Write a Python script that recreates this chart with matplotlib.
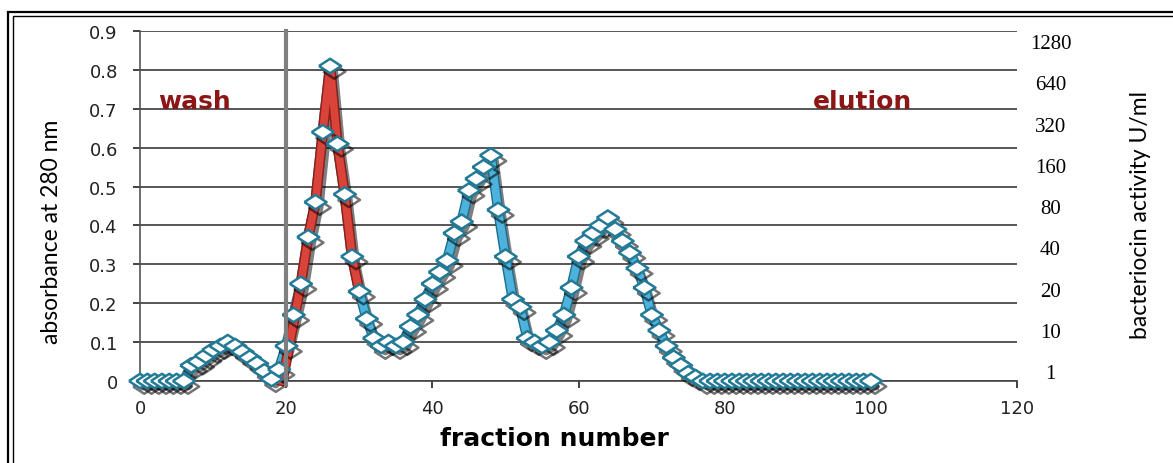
import numpy as np
import matplotlib
matplotlib.use("Agg")
import matplotlib.pyplot as plt
import matplotlib.patheffects as pe
from matplotlib.patches import Rectangle

# absorbance at 280 nm for each fraction (0..100)
fraction = list(range(0, 101))
absorbance = [0, 0, 0, 0, 0, 0, 0, 0.04, 0.05, 0.065,
              0.08, 0.09, 0.10, 0.09, 0.075, 0.06, 0.045, 0.025, 0.005, 0.03,
              0.09, 0.17, 0.25, 0.37, 0.46, 0.64, 0.81, 0.61, 0.48, 0.32,
              0.23, 0.16, 0.11, 0.09, 0.10, 0.09, 0.10, 0.14, 0.17, 0.21,
              0.25, 0.28, 0.31, 0.38, 0.41, 0.49, 0.52, 0.55, 0.58, 0.44,
              0.32, 0.21, 0.19, 0.11, 0.10, 0.09, 0.10, 0.13, 0.17, 0.24,
              0.32, 0.36, 0.38, 0.40, 0.42, 0.39, 0.36, 0.33, 0.29, 0.24,
              0.17, 0.13, 0.09, 0.06, 0.04, 0.02, 0.01] + [0] * 24

# bacteriocin activity trace (drawn on the absorbance scale, as in the original)
act_x = [19.5, 22, 23, 24, 25, 26, 27, 28, 29, 30]
act_y = [0.0, 0.25, 0.37, 0.46, 0.64, 0.81, 0.61, 0.48, 0.32, 0.23]

activity_labels = ['1', '10', '20', '40', '80', '160', '320', '640', '1280']
wash_start = 20

narrow = ['Lato', 'DejaVu Sans']

fig = plt.figure(figsize=(11.73, 4.64), dpi=100)
ax = fig.add_axes([0.1194, 0.1767, 0.7477, 0.7543])

ax.set_xlim(0, 120)
ax.set_ylim(0, 0.9)
ax.set_xticks(np.arange(0, 121, 20))
ax.set_yticks(np.arange(0, 0.91, 0.1))
ax.set_yticklabels(['0'] + ['%.1f' % v for v in np.arange(0.1, 0.91, 0.1)])
ax.tick_params(axis='both', labelsize=13, colors='#222222', length=5, width=1.2)
ax.tick_params(axis='y', pad=11)
ax.tick_params(axis='x', pad=8)
ax.grid(axis='y', color='#3a3a3a', lw=1.2)
ax.set_axisbelow(True)
for s in ['top', 'right']:
    ax.spines[s].set_visible(False)
ax.spines['left'].set_color('#555555')
ax.spines['bottom'].set_color('#444444')
ax.spines['left'].set_linewidth(1.2)
ax.spines['bottom'].set_linewidth(1.2)

shadow = pe.SimpleLineShadow(offset=(3, -4), shadow_color='black', alpha=0.5)

# blue absorbance line
ax.plot(fraction, absorbance, color='#4db3dd', lw=5.5, clip_on=False, zorder=3,
        solid_joinstyle='round',
        path_effects=[shadow, pe.Stroke(linewidth=7.5, foreground='#1d6e8c'), pe.Normal()])

# red activity line
ax.plot(act_x, act_y, color='#d9433a', lw=5.5, clip_on=False, zorder=4,
        solid_joinstyle='round',
        path_effects=[pe.Stroke(linewidth=7.5, foreground='#8e1f17'), pe.Normal()])

# diamond markers
diamond = [(-1, 0), (0, 0.65), (1, 0), (0, -0.65), (-1, 0)]
ax.plot(fraction, absorbance, ls='none', marker=diamond, ms=16, mfc='white',
        mec='#237a96', mew=1.8, clip_on=False, zorder=5,
        path_effects=[pe.SimpleLineShadow(offset=(3, -4), shadow_color='black', alpha=0.55),
                      pe.Normal()])

# wash / elution boundary
ax.plot([wash_start, wash_start], [-0.01, 0.9], color='#7f7f7f', lw=3, clip_on=False, zorder=6)

ax.text(2.5, 0.72, 'wash', color='#8c1515', fontsize=18, fontweight='bold',
        va='center', ha='left')
ax.text(92, 0.72, 'elution', color='#8c1515', fontsize=18, fontweight='bold',
        va='center', ha='left')

ax.set_xlabel('fraction number', fontsize=18, fontweight='bold')
ax.xaxis.set_label_coords(0.473, -0.128)
ax.set_ylabel('absorbance at 280 nm', fontsize=16.5, family=narrow)
ax.yaxis.set_label_coords(-0.089, 0.43)

# right hand activity scale
ax2 = ax.twinx()
ax2.set_ylim(-0.242, 8.242)
ax2.set_yticks(range(len(activity_labels)))
ax2.set_yticklabels(activity_labels, family='Liberation Serif', fontsize=15)
ax2.tick_params(axis='y', length=0, pad=24)
for lab in ax2.get_yticklabels():
    lab.set_horizontalalignment('center')
for s in ax2.spines.values():
    s.set_visible(False)
ax2.set_ylabel('bacteriocin activity U/ml', fontsize=16.5, family=narrow)
ax2.yaxis.set_label_coords(1.129, 0.477)

# double frame around the figure
fig.patches.append(Rectangle((8 / 1173, -0.1), 1.2, 1 - 13 / 464 + 0.1,
                             transform=fig.transFigure, fill=False, ec='black', lw=1.6))
fig.patches.append(Rectangle((13 / 1173, -0.1), 1.2, 1 - 17 / 464 + 0.1,
                             transform=fig.transFigure, fill=False, ec='black', lw=1.0))

fig.savefig('out.png', dpi=100)
